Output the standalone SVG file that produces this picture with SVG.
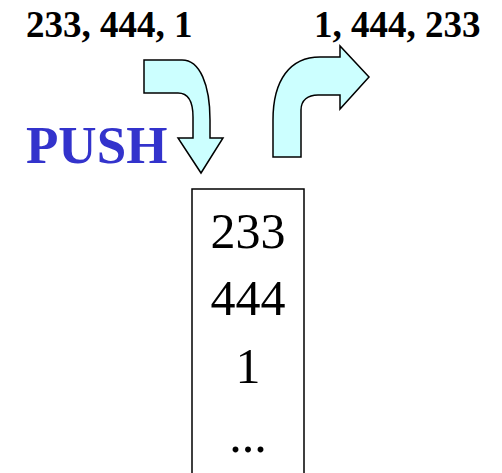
<svg xmlns="http://www.w3.org/2000/svg" width="502" height="473" viewBox="0 0 502 473">
<style>
.arrow{fill:#CCFFFF;stroke:#000;stroke-width:1.5;stroke-linejoin:miter}
.bold{font-family:"Liberation Serif","Times New Roman",serif;font-weight:bold;font-size:37px;fill:#000}
.push{font-family:"Liberation Serif","Times New Roman",serif;font-weight:bold;font-size:53px;fill:#3333CC}
.cell{font-family:"Liberation Serif","Times New Roman",serif;font-size:50px;fill:#000;text-anchor:middle}
.box{fill:none;stroke:#000;stroke-width:1.5}
</style>
<g id="input-label"><text class="bold" x="26" y="37">233, 444, 1</text></g>
<g id="output-label"><text class="bold" x="314" y="37">1, 444, 233</text></g>
<g id="push-label"><text class="push" x="26" y="163">PUSH</text></g>
<g id="connectors">
<path id="push-arrow" class="arrow" d="M144 60 L182 60 C200 60 210 85 210 120 L210 138 L223 138 L201 173 L178 138 L193 138 L193 117 C193 100 188 93 178 93 L144 93 Z"/>
<path id="pop-arrow" class="arrow" d="M273 157 L273 120 C273 80 290 57 320 57 L340 57 L340 46 L369 77 L340 109 L340 95 L318 95 C308 95 301 100 301 110 L301 157 Z"/>
</g>
<g id="stack">
<path class="box" d="M192 473 V189 H304 V473"/>
<text class="cell" x="248" y="248">233</text>
<text class="cell" x="248" y="315">444</text>
<text class="cell" x="248" y="383">1</text>
<text class="cell" x="248" y="452">...</text>
</g>
</svg>
